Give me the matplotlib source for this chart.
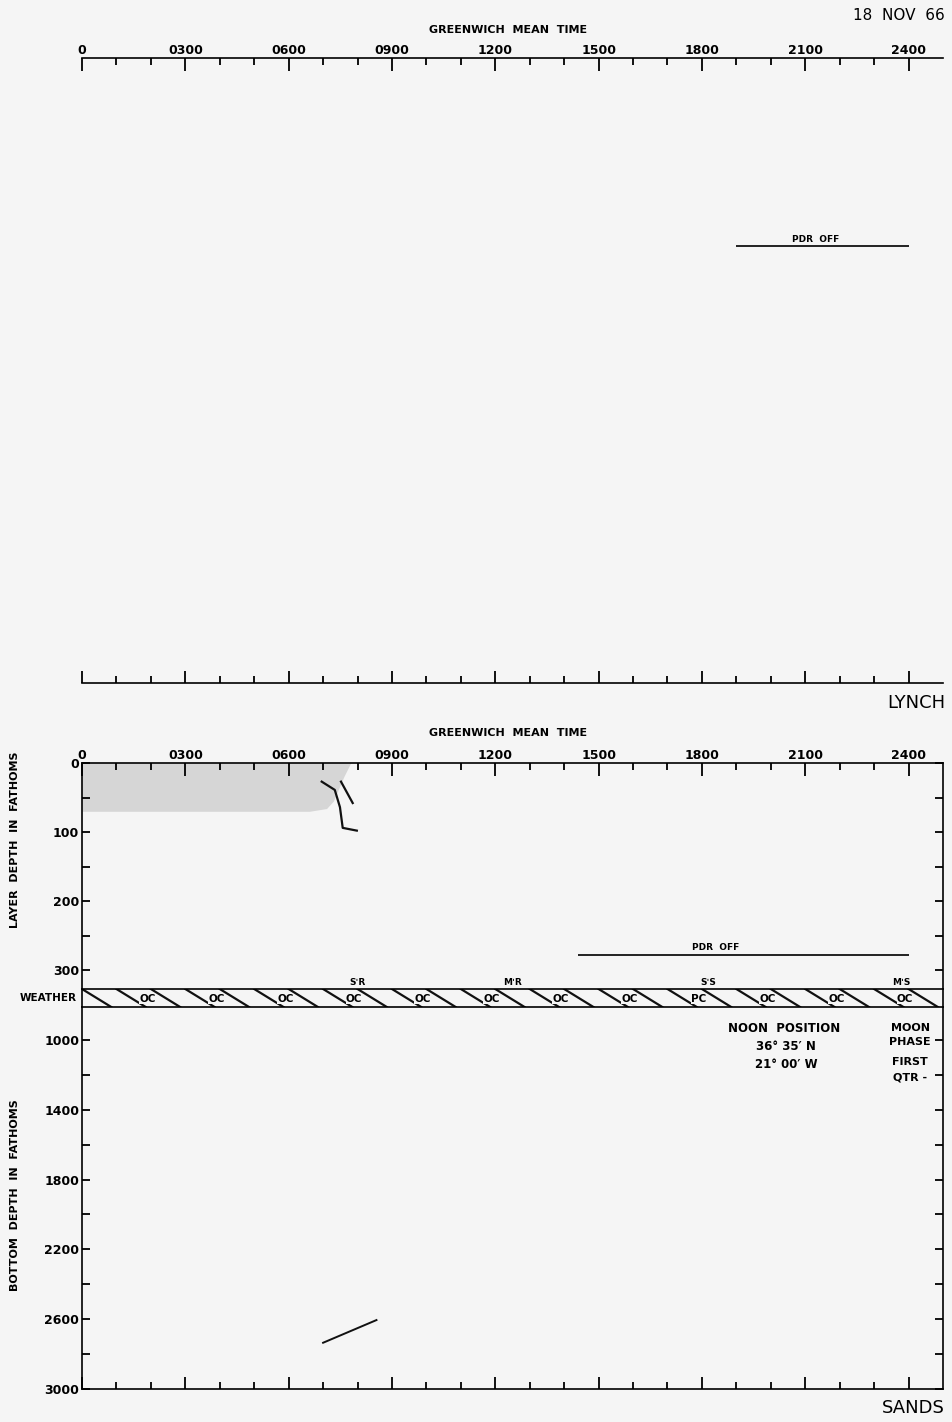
import matplotlib
matplotlib.use('Agg')
import matplotlib.pyplot as plt
from matplotlib.ticker import MultipleLocator, FixedLocator

# ---------------- data ----------------
hour_ticks = [0, 3, 6, 9, 12, 15, 18, 21, 24]
hour_labels = ['0', '0300', '0600', '0900', '1200', '1500', '1800', '2100', '2400']

layer_ticks = [0, 100, 200, 300]
bottom_ticks = [1000, 1400, 1800, 2200, 2600, 3000]

# layer (shaded) : time (hr) vs depth of layer bottom (fathoms)
shade_hr = [0, 6.6, 7.1, 7.3, 7.6, 7.8]
shade_depth = [70, 70, 66, 55, 20, 0]

# black layer traces
trace1_hr = [6.96, 7.34, 7.49, 7.57, 7.98]
trace1_depth = [27, 39, 64, 94, 98]
trace2_hr = [7.52, 7.86]
trace2_depth = [27, 58]

# bottom depth trace
bottom_hr = [7.0, 8.55]
bottom_depth = [2735, 2605]

# PDR OFF periods
pdr_top = (19.0, 24.0)
pdr_low = (14.4, 24.0)

# weather codes every 2 hours
wx_hr = [2, 4, 6, 8, 10, 12, 14, 16, 18, 20, 22, 24]
wx_code = ['OC', 'OC', 'OC', 'OC', 'OC', 'OC', 'OC', 'OC', 'PC', 'OC', 'OC', 'OC']

# sun / moon events
event_hr = [8.0, 12.5, 18.2, 23.8]
event_lbl = ['S\u02c8R', 'M\u02c8R', 'S\u02c8S', 'M\u02c8S']

# ---------------- figure ----------------
W, H = 952, 1422
fig = plt.figure(figsize=(W / 100, H / 100), dpi=100)
fig.patch.set_facecolor('#f5f5f5')
plt.rcParams['font.family'] = ['DejaVu Sans']

def box(top, bottom, left=82, right=943):
    return [left / W, 1 - bottom / H, (right - left) / W, (bottom - top) / H]

def ftext(x, y, s, **kw):
    fig.text(x / W, 1 - y / H, s, **kw)

lw = 1.2
tick_font = dict(fontsize=9, fontweight='bold')

def time_axis(ax, labels_top):
    ax.set_xlim(0, 25)
    ax.xaxis.set_major_locator(FixedLocator(hour_ticks))
    ax.xaxis.set_minor_locator(FixedLocator([h for h in range(25) if h % 3]))
    ax.tick_params(axis='x', which='major', direction='in', length=9, width=1.3)
    ax.tick_params(axis='x', which='minor', direction='in', length=5, width=1.3)
    ax.set_facecolor('none')
    for s in ax.spines.values():
        s.set_linewidth(lw)

# ---- top panel (LYNCH) ----
ax_top = fig.add_axes(box(58, 683))
time_axis(ax_top, True)
ax_top.set_ylim(0, 1)
ax_top.set_yticks([])
ax_top.spines['left'].set_visible(False)
ax_top.spines['right'].set_visible(False)
ax_top.tick_params(axis='x', which='both', top=True, bottom=True, labeltop=True, labelbottom=False, pad=1)
ax_top.set_xticklabels(hour_labels, **tick_font)
ax_top.hlines(0.699, *pdr_top, color='#111111', lw=1.3)
ax_top.text(21.3, 0.703, 'PDR  OFF', ha='center', va='bottom', fontsize=6.5, fontweight='bold')

ftext(508, 30, 'GREENWICH  MEAN  TIME', ha='center', va='center', fontsize=8, fontweight='bold')
ftext(945, 15, '18  NOV  66', ha='right', va='center', fontsize=11)
ftext(945, 703, 'LYNCH', ha='right', va='center', fontsize=13)

# ---- layer depth panel ----
ax_layer = fig.add_axes(box(763, 989))
time_axis(ax_layer, True)
ax_layer.set_ylim(327.5, 0)
ax_layer.spines['bottom'].set_visible(False)
ax_layer.tick_params(axis='x', which='both', top=True, bottom=False, labeltop=True, labelbottom=False, pad=1)
ax_layer.set_xticklabels(hour_labels, **tick_font)
ax_layer.yaxis.set_major_locator(FixedLocator(layer_ticks))
ax_layer.yaxis.set_minor_locator(FixedLocator([50, 150, 250]))
ax_layer.tick_params(axis='y', which='both', direction='in', length=6, width=1.3, left=True, right=True, pad=2)
ax_layer.set_yticklabels([str(v) for v in layer_ticks], **tick_font)

ax_layer.fill_between(shade_hr, 0, shade_depth, color='#d6d6d6', lw=0)
ax_layer.plot(trace1_hr, trace1_depth, color='#111111', lw=1.6)
ax_layer.plot(trace2_hr, trace2_depth, color='#111111', lw=1.6)
ax_layer.hlines(278, *pdr_low, color='#111111', lw=1.3)
ax_layer.text(18.4, 274, 'PDR  OFF', ha='center', va='bottom', fontsize=6.5, fontweight='bold')
for h, s in zip(event_hr, event_lbl):
    ax_layer.text(h, 318, s, ha='center', va='center', fontsize=6.5, fontweight='bold')

ftext(508, 733, 'GREENWICH  MEAN  TIME', ha='center', va='center', fontsize=8, fontweight='bold')
ftext(15, 840, 'LAYER  DEPTH  IN  FATHOMS', ha='center', va='center', rotation=90,
      fontsize=8, fontweight='bold')

# ---- weather band ----
ax_wx = fig.add_axes(box(989, 1007))
ax_wx.set_xlim(0, 25)
ax_wx.set_ylim(0, 1)
ax_wx.set_xticks([])
ax_wx.set_yticks([])
ax_wx.set_facecolor('none')
for s in ax_wx.spines.values():
    s.set_linewidth(lw)
for h in range(25):
    ax_wx.plot([h, h + 0.85], [1, 0], color='#111111', lw=1.6, clip_on=True)
for h, c in zip(wx_hr, wx_code):
    ax_wx.text(h - 0.1, 0.45, c, ha='center', va='center', fontsize=7.5, fontweight='bold',
               bbox=dict(facecolor='#f5f5f5', edgecolor='none', pad=0.2))
ftext(77, 998, 'WEATHER', ha='right', va='center', fontsize=7.5, fontweight='bold')

# ---- bottom depth panel ----
ax_bot = fig.add_axes(box(1007, 1389))
time_axis(ax_bot, False)
ax_bot.set_ylim(3000, 811)
ax_bot.spines['top'].set_visible(False)
ax_bot.tick_params(axis='x', which='both', top=False, bottom=True, labelbottom=False)
ax_bot.yaxis.set_major_locator(FixedLocator(bottom_ticks))
ax_bot.yaxis.set_minor_locator(FixedLocator([1200, 1600, 2000, 2400, 2800]))
ax_bot.tick_params(axis='y', which='both', direction='in', length=6, width=1.3, left=True, right=True, pad=2)
ax_bot.set_yticklabels([str(v) for v in bottom_ticks], **tick_font)
ax_bot.plot(bottom_hr, bottom_depth, color='#111111', lw=1.4)

ftext(15, 1195, 'BOTTOM  DEPTH  IN  FATHOMS', ha='center', va='center', rotation=90,
      fontsize=8, fontweight='bold')
ftext(945, 1408, 'SANDS', ha='right', va='center', fontsize=13)

# notes at right
ftext(784, 1028, 'NOON  POSITION', ha='center', va='center', fontsize=8.5, fontweight='bold')
ftext(786, 1047, '36\u00b0 35\u2032 N', ha='center', va='center', fontsize=8.5, fontweight='bold')
ftext(786, 1065, '21\u00b0 00\u2032 W', ha='center', va='center', fontsize=8.5, fontweight='bold')
ftext(910, 1028, 'MOON', ha='center', va='center', fontsize=8, fontweight='bold')
ftext(910, 1042, 'PHASE', ha='center', va='center', fontsize=8, fontweight='bold')
ftext(910, 1062, 'FIRST', ha='center', va='center', fontsize=8, fontweight='bold')
ftext(910, 1077, 'QTR -', ha='center', va='center', fontsize=8, fontweight='bold')

fig.savefig('out.png', dpi=100, facecolor=fig.get_facecolor())
